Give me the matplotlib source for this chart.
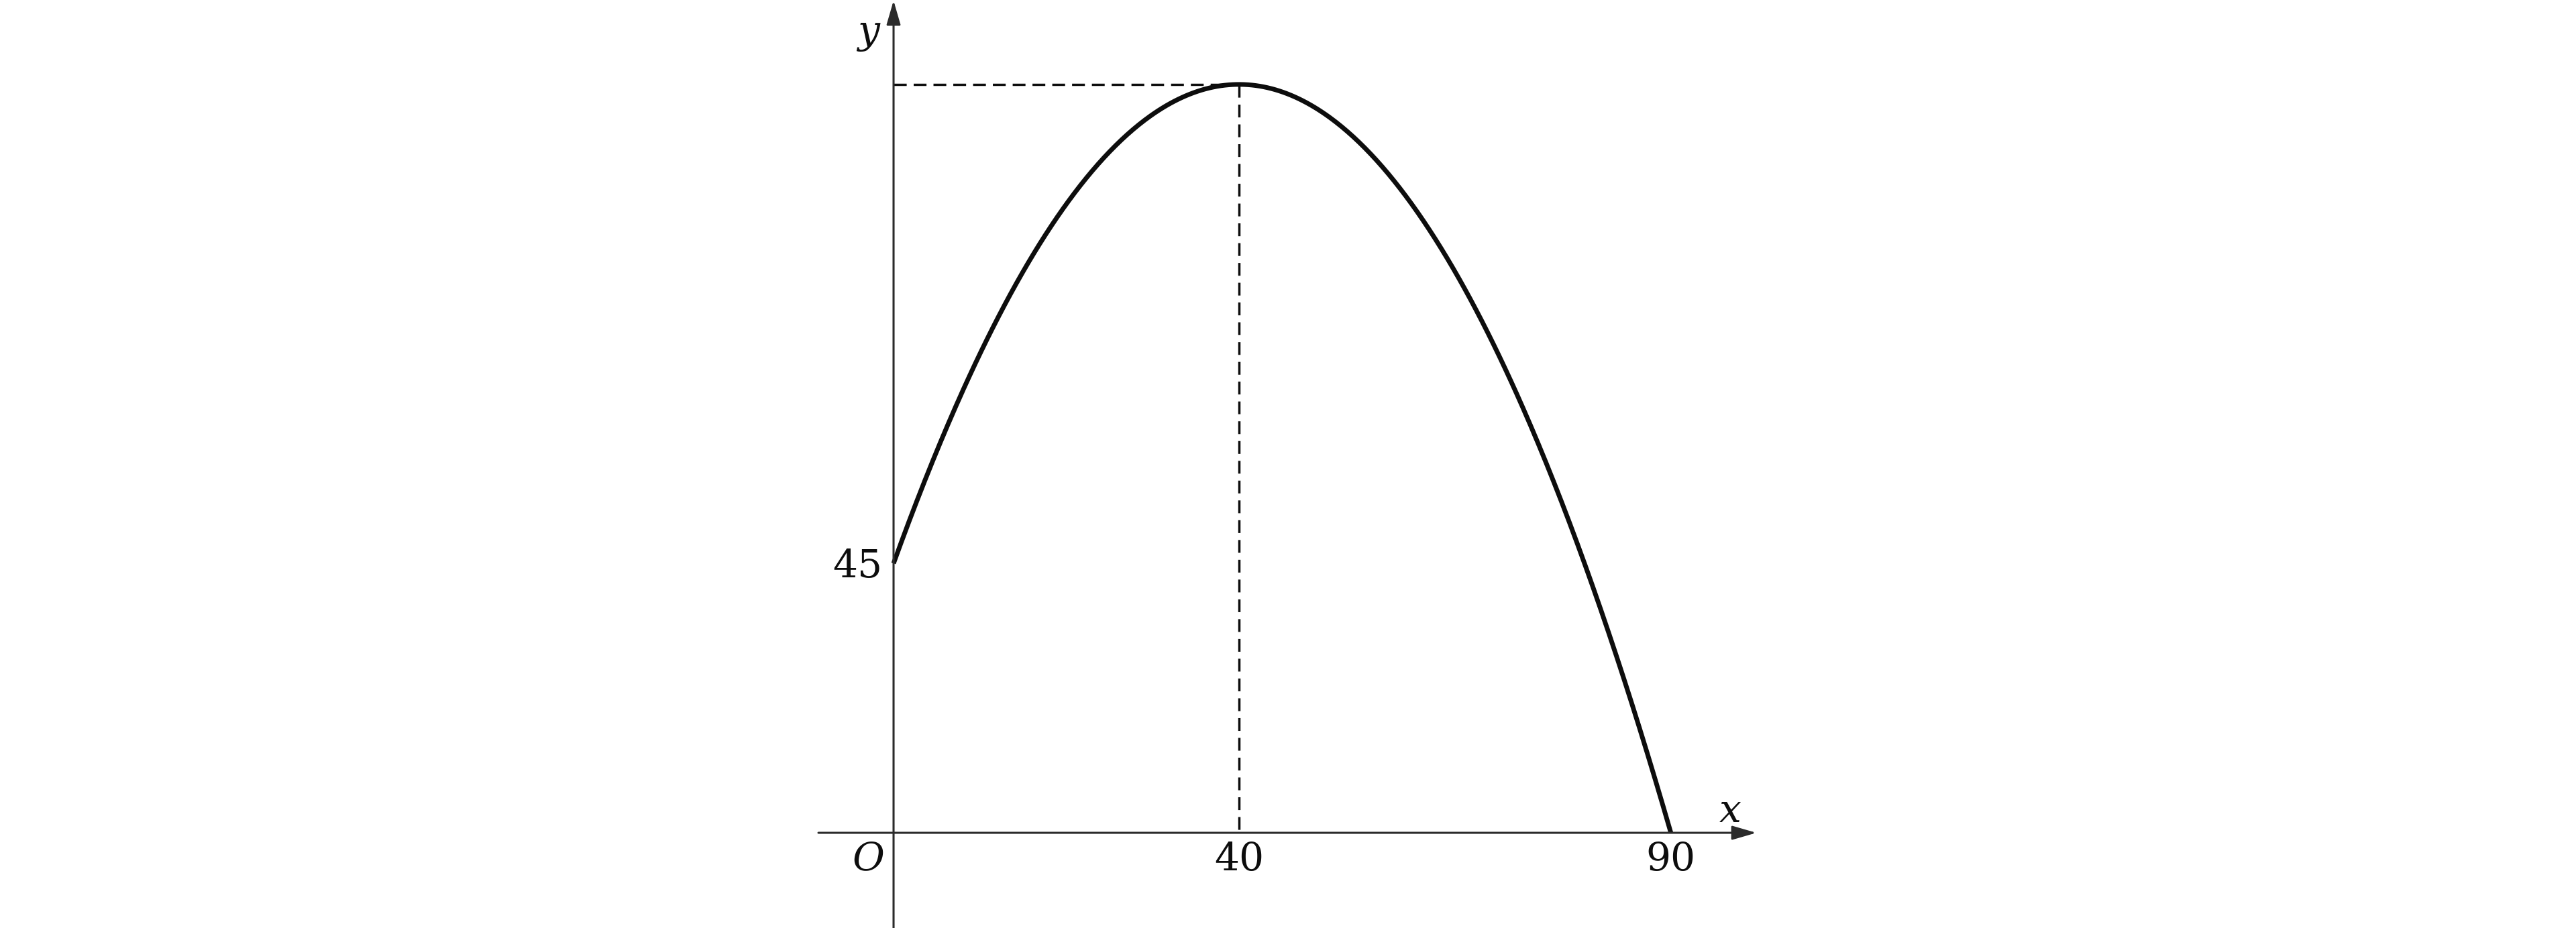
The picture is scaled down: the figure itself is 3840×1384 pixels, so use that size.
import numpy as np
import matplotlib
matplotlib.use("Agg")
import matplotlib.pyplot as plt

# points (x, y)
CURVE_X = [0, 10, 20, 30, 40, 50, 60, 70, 80, 90]
CURVE_Y = [45, 80, 105, 120, 125, 120, 105, 80, 45, 0]

PEAK_X = 40
PEAK_Y = 125

X_TICKS = [40, 90]
X_TICK_LABELS = ["40", "90"]
Y_TICKS = [45]
Y_TICK_LABELS = ["45"]

FONT = "DejaVu Serif"
INK = "#0d0d0d"
AXIS_INK = "#2b2b2b"

fig = plt.figure(figsize=(38.4, 13.84), dpi=100)
ax = fig.add_axes([0, 0, 1, 1])
ax.set_xlim(-103.46, 194.8)
ax.set_ylim(-15.9, 139.1)
ax.axis("off")

# axes with arrow heads
arrow = dict(arrowstyle="-|>,head_length=0.55,head_width=0.16", lw=2.2,
             color=AXIS_INK, mutation_scale=40, shrinkA=0, shrinkB=0)
ax.annotate("", xy=(99.9, 0), xytext=(-8.7, 0), arrowprops=arrow)
ax.annotate("", xy=(0, 139.0), xytext=(0, -15.9), arrowprops=arrow)

# smooth quadratic through the read points
coef = np.polyfit(CURVE_X, CURVE_Y, 2)
xs = np.linspace(CURVE_X[0], CURVE_X[-1], 400)
ax.plot(xs, np.polyval(coef, xs), color=INK, lw=5.0, solid_capstyle="butt")

# dashed guides to the maximum
dash = dict(color=INK, lw=2.5, dashes=(5.5, 3))
ax.plot([0, PEAK_X], [PEAK_Y, PEAK_Y], **dash)
ax.plot([PEAK_X, PEAK_X], [PEAK_Y, 0], **dash)

fs = 42
for xv, lab in zip(X_TICKS, X_TICK_LABELS):
    ax.text(xv, -4.5, lab, ha="center", va="center", fontsize=fs, family=FONT, color=INK)
for yv, lab in zip(Y_TICKS, Y_TICK_LABELS):
    ax.text(-1.3, yv - 0.5, lab, ha="right", va="center", fontsize=fs, family=FONT, color=INK)

ax.text(-2.9, -4.4, "O", ha="center", va="center", fontsize=fs, family=FONT,
        style="italic", color=INK)
ax.text(-2.9, 133.6, "y", ha="center", va="center", fontsize=fs, family=FONT,
        style="italic", color=INK)
ax.text(96.9, 3.6, "x", ha="center", va="center", fontsize=fs, family=FONT,
        style="italic", color=INK)

fig.savefig("out.png", dpi=100, facecolor="white")
